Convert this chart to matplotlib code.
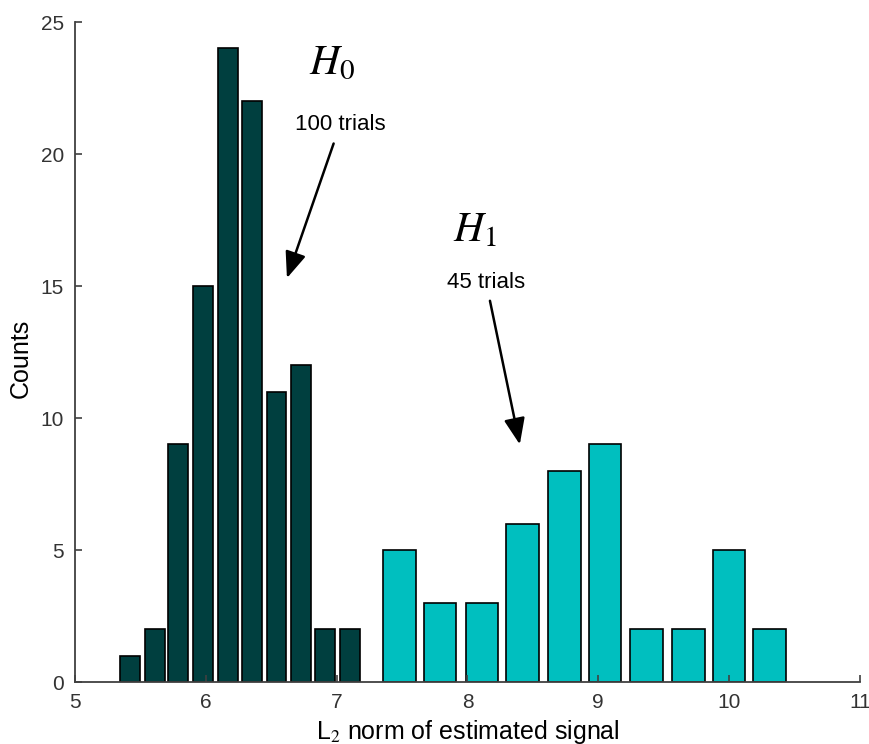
import numpy as np
import matplotlib.pyplot as plt

plt.rcParams['font.family'] = ['Liberation Sans', 'DejaVu Sans']
plt.rcParams['mathtext.fontset'] = 'stix'

# histogram bins (centres) and counts for each hypothesis
h0_centers = [5.42, 5.61, 5.79, 5.98, 6.17, 6.35, 6.54, 6.73, 6.91, 7.10]
h0_counts = [1, 2, 9, 15, 24, 22, 11, 12, 2, 2]
h1_centers = [7.48, 7.79, 8.11, 8.42, 8.74, 9.05, 9.37, 9.69, 10.00, 10.31]
h1_counts = [5, 3, 3, 6, 8, 9, 2, 2, 5, 2]

fig = plt.figure(figsize=(8.69, 7.44), dpi=100)
ax = fig.add_axes([0.0863, 0.0833, 0.9033, 0.8871])

w0 = 0.8 * (h0_centers[1] - h0_centers[0])
w1 = 0.8 * (h1_centers[1] - h1_centers[0])
ax.bar(h0_centers, h0_counts, width=w0, color='#003f3f', edgecolor='k', linewidth=1.2)
ax.bar(h1_centers, h1_counts, width=w1, color='#00bfbf', edgecolor='k', linewidth=1.2)

ax.set_xlim(5, 11)
ax.set_ylim(0, 25)
ax.set_xticks(np.arange(5, 12, 1))
ax.set_yticks(np.arange(0, 26, 5))

for s in ['top', 'right']:
    ax.spines[s].set_visible(False)
for s in ['left', 'bottom']:
    ax.spines[s].set_color('#404040')
    ax.spines[s].set_linewidth(1.3)
ax.tick_params(direction='in', length=5, width=1.2, color='#404040',
               labelsize=15, labelcolor='#333333', pad=8)

ax.set_xlabel('L$_2$ norm of estimated signal', fontsize=18, labelpad=4)
ax.set_ylabel('Counts', fontsize=18)
ax.yaxis.set_label_coords(-0.054, 0.49)

# labels for each hypothesis with arrows
arrow = dict(arrowstyle='-|>,head_length=1.0,head_width=0.4',
             color='k', lw=1.8, shrinkA=4, shrinkB=0)
ax.text(6.965, 23.45, '$H_0$', fontsize=30, ha='center', va='center')
ax.annotate('100 trials', xy=(6.62, 15.3), xytext=(7.026, 21.1),
            fontsize=16, ha='center', va='center', arrowprops=arrow)
ax.text(8.058, 17.1, '$H_1$', fontsize=30, ha='center', va='center')
ax.annotate('45 trials', xy=(8.40, 9.0), xytext=(8.142, 15.15),
            fontsize=16, ha='center', va='center', arrowprops=arrow)

fig.savefig('out.png', dpi=100)
